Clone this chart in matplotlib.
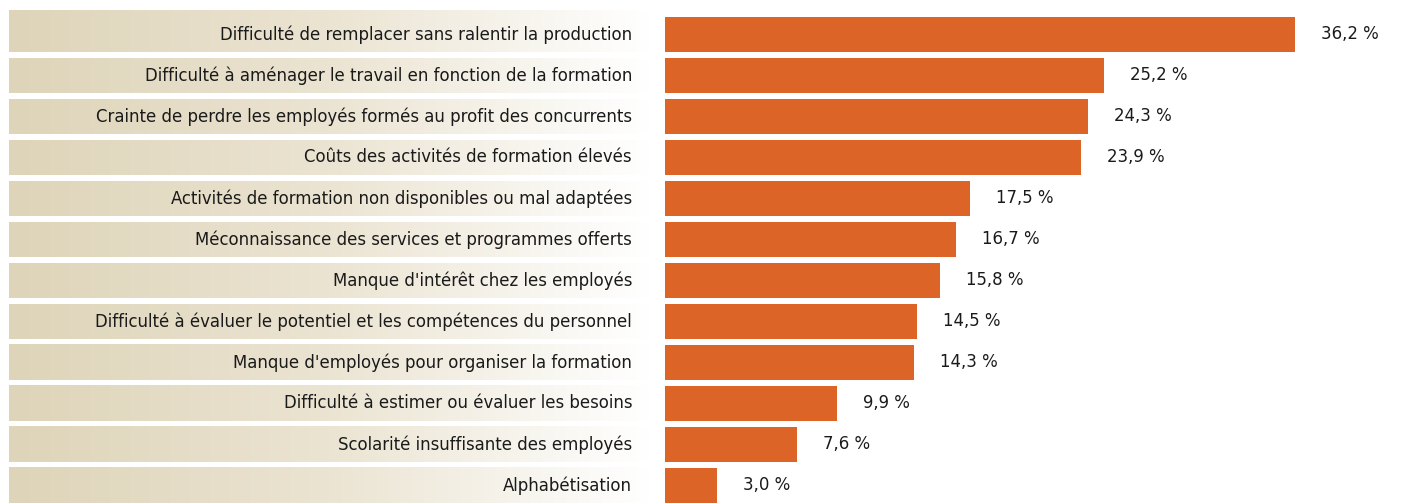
import numpy as np
import matplotlib.pyplot as plt
from matplotlib.colors import LinearSegmentedColormap

# données
labels = [
    "Difficulté de remplacer sans ralentir la production",
    "Difficulté à aménager le travail en fonction de la formation",
    "Crainte de perdre les employés formés au profit des concurrents",
    "Coûts des activités de formation élevés",
    "Activités de formation non disponibles ou mal adaptées",
    "Méconnaissance des services et programmes offerts",
    "Manque d'intérêt chez les employés",
    "Difficulté à évaluer le potentiel et les compétences du personnel",
    "Manque d'employés pour organiser la formation",
    "Difficulté à estimer ou évaluer les besoins",
    "Scolarité insuffisante des employés",
    "Alphabétisation",
]
values = [36.2, 25.2, 24.3, 23.9, 17.5, 16.7, 15.8, 14.5, 14.3, 9.9, 7.6, 3.0]

plt.rcParams['font.family'] = ['DejaVu Sans']
plt.rcParams['font.stretch'] = 'condensed'

W, H = 1412, 504
fig = plt.figure(figsize=(W / 100, H / 100), dpi=100)
fig.patch.set_facecolor('white')

beige = '#ebe3d4'
orange = '#dd6427'
txt = '#1a1a1a'

# y en unités de rangée : centre de la rangée i = 34.5 + 41*i pixels
top_px, step = 34.5, 41.0
y_top = (10 - top_px) / step
y_bot = (H - top_px) / step
h = 35 / step

# panneau gauche (étiquettes)
axl = fig.add_axes([9 / W, 0, (650 - 9) / W, (H - 10) / H])
axl.set_facecolor(beige)
cmap = LinearSegmentedColormap.from_list('g', ['#ded4b9', '#ebe4d2', '#ffffff'])
grad = np.linspace(0, 1, 256).reshape(1, -1)
for i, lab in enumerate(labels):
    y0 = i - h / 2
    y1 = i + h / 2
    if i == 0:
        y0 = y_top
    axl.imshow(grad, cmap=cmap, aspect='auto', extent=(0, 1, y1, y0), zorder=1)
    axl.text((632 - 9) / (650 - 9), i, lab, ha='right', va='center',
             fontsize=13.2, color=txt, zorder=2)
axl.set_xlim(0, 1)
axl.set_ylim(y_bot, y_top)
axl.set_xticks([])
axl.set_yticks([])
axl.set_frame_on(False)

# panneau droit (barres)
px_per_unit = (1295 - 665) / 36.2
axr = fig.add_axes([650 / W, 0, (W - 650) / W, (H - 10) / H])
axr.set_facecolor(beige)
x0 = -15 / px_per_unit
axr.set_xlim(x0, x0 + (W - 650) / px_per_unit)
axr.set_ylim(y_bot, y_top)
axr.barh(range(len(values)), values, height=h, color=orange)
for i, v in enumerate(values):
    axr.text(v + 26 / px_per_unit, i, f"{v:.1f} %".replace('.', ','),
             ha='left', va='center', fontsize=13.2, color=txt)
axr.set_xticks([])
axr.set_yticks([])
axr.set_frame_on(False)

fig.savefig('out.png', dpi=100, facecolor='white')
